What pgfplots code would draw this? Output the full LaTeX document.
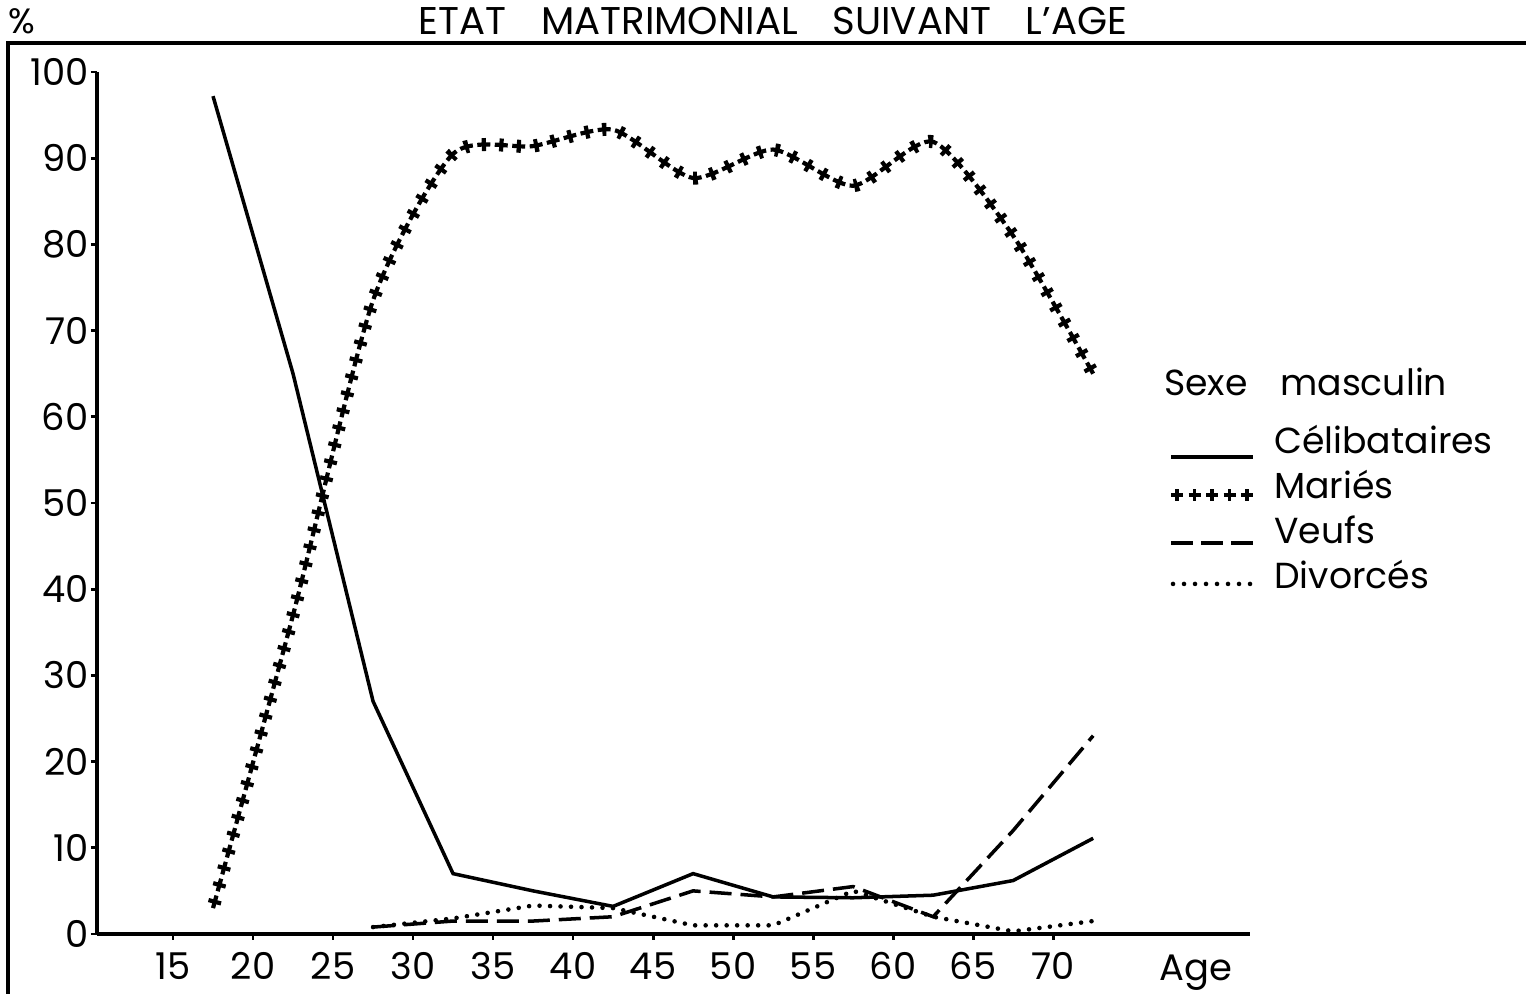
\documentclass[border=0pt]{standalone}
\usepackage{pgfplots}
\pgfplotsset{compat=1.18}
\usepackage{fontspec}
\setmainfont{Poppins}

\pgfplotstableread{
age val
17.5 97.2
22.5 65
27.5 27
32.5 7
37.5 5
42.5 3.2
47.5 7
52.5 4.3
57.5 4.2
62.5 4.5
67.5 6.2
72.5 11.1
}\celib

\pgfplotstableread{
age val
17.5 3
22.5 37
27.5 73.5
32.5 90.5
37.5 91.4
42.5 93.3
47.5 87.7
52.5 91
57.5 86.8
62.5 91.9
67.5 81
72.5 65
}\maries

\pgfplotstableread{
age val
27.5 0.8
32.5 1.5
37.5 1.5
42.5 2
47.5 5
52.5 4.3
57.5 5.5
62.5 2
67.5 12
72.5 23
}\veufs

\pgfplotstableread{
age val
27.5 0.8
32.5 1.8
37.5 3.3
42.5 3
47.5 1
52.5 1
57.5 5
62.5 2
67.5 0.3
72.5 1.5
}\divorces

\begin{document}
\begin{tikzpicture}
\useasboundingbox (-9.7mm,-6mm) rectangle (142.9mm,93.4mm);
\draw[line width=1pt] (-8.9mm,-6mm) -- (-8.9mm,89.1mm) -- (142.9mm,89.1mm);
\node[font=\fontsize{11}{13}\selectfont] at (67.6mm,91.3mm) {ETAT\hspace{0.9em}MATRIMONIAL\hspace{0.9em}SUIVANT\hspace{0.9em}L'AGE};
\node[font=\fontsize{10}{12}\selectfont] at (-7.5mm,91.3mm) {\%};
\begin{axis}[
  at={(0,0)}, anchor=south west,
  scale only axis, width=115.3mm, height=86.2mm,
  xmin=10.25, xmax=82.3, ymin=0, ymax=100,
  axis lines=left, axis line style={line width=1pt, -},
  xtick={15,20,...,70}, ytick={0,10,...,100},
  tick style={line width=0.8pt, black},
  major tick length=0.6mm, tick align=outside,
  /pgf/number format/assume math mode=true,
  ticklabel style={font=\fontsize{10.5}{12}\selectfont},
  yticklabel style={inner sep=0.5pt},
  clip=false,
  legend cell align=left,
  legend style={at={(axis cs:77.2,59.6)}, anchor=north west, draw=none, fill=none,
    inner sep=0pt, font=\fontsize{10.3}{12}\selectfont,
    nodes={inner sep=0.3mm, text height=3mm, text depth=0.8mm},
    row sep=0.1mm,
    /tikz/every odd column/.append style={column sep=1.6mm}},
]
\addplot[line width=1pt, black, legend image code/.code={\draw[line width=1pt] (0mm,-1.4mm) -- (8.2mm,-1.4mm);}] table[x=age,y=val] {\celib};
\addlegendentry{Célibataires}
\addplot[smooth, tension=0.4, black, line width=0.42mm, dash pattern=on 1.3mm off 0.45mm,
  legend image code/.code={
    \draw[solid, line width=1.1pt] (0mm,-0.7mm)--(1.2mm,-0.7mm) (0.6mm,-1.3mm)--(0.6mm,-0.1mm);
    \draw[solid, line width=1.1pt] (1.75mm,-0.7mm)--(2.95mm,-0.7mm) (2.35mm,-1.3mm)--(2.35mm,-0.1mm);
    \draw[solid, line width=1.1pt] (3.5mm,-0.7mm)--(4.7mm,-0.7mm) (4.1mm,-1.3mm)--(4.1mm,-0.1mm);
    \draw[solid, line width=1.1pt] (5.25mm,-0.7mm)--(6.45mm,-0.7mm) (5.85mm,-1.3mm)--(5.85mm,-0.1mm);
    \draw[solid, line width=1.1pt] (7mm,-0.7mm)--(8.2mm,-0.7mm) (7.6mm,-1.3mm)--(7.6mm,-0.1mm);
  }] table[x=age,y=val] {\maries};
\addlegendentry{Mariés}
\addplot[smooth, tension=0.4, black, line width=1.3mm, dash pattern=on 0.42mm off 1.33mm, dash phase=1.3mm, forget plot] table[x=age,y=val] {\maries};
\addplot[line width=1pt, black, dash pattern=on 2.2mm off 0.9mm, legend image code/.code={\draw[solid, line width=1pt, dash pattern=on 2.2mm off 0.8mm] (0mm,-1.0mm) -- (8.2mm,-1.0mm);}] table[x=age,y=val] {\veufs};
\addlegendentry{Veufs}
\addplot[line width=1.3pt, black, line cap=round, dash pattern=on 0pt off 1.05mm, legend image code/.code={\draw[line width=1.3pt, line cap=round, dash pattern=on 0pt off 1.1mm] (0.2mm,-0.6mm) -- (8.2mm,-0.6mm);}] table[x=age,y=val] {\divorces};
\addlegendentry{Divorcés}
\node[font=\fontsize{10.3}{12}\selectfont, anchor=west, inner sep=0pt] at (axis cs:76.9,64.0) {Sexe\hspace{0.9em}masculin};
\node[font=\fontsize{10.5}{12}\selectfont, anchor=north, inner sep=0pt, yshift=-2.0mm] at (axis cs:78.9,0) {Age};
\end{axis}
\end{tikzpicture}
\end{document}
